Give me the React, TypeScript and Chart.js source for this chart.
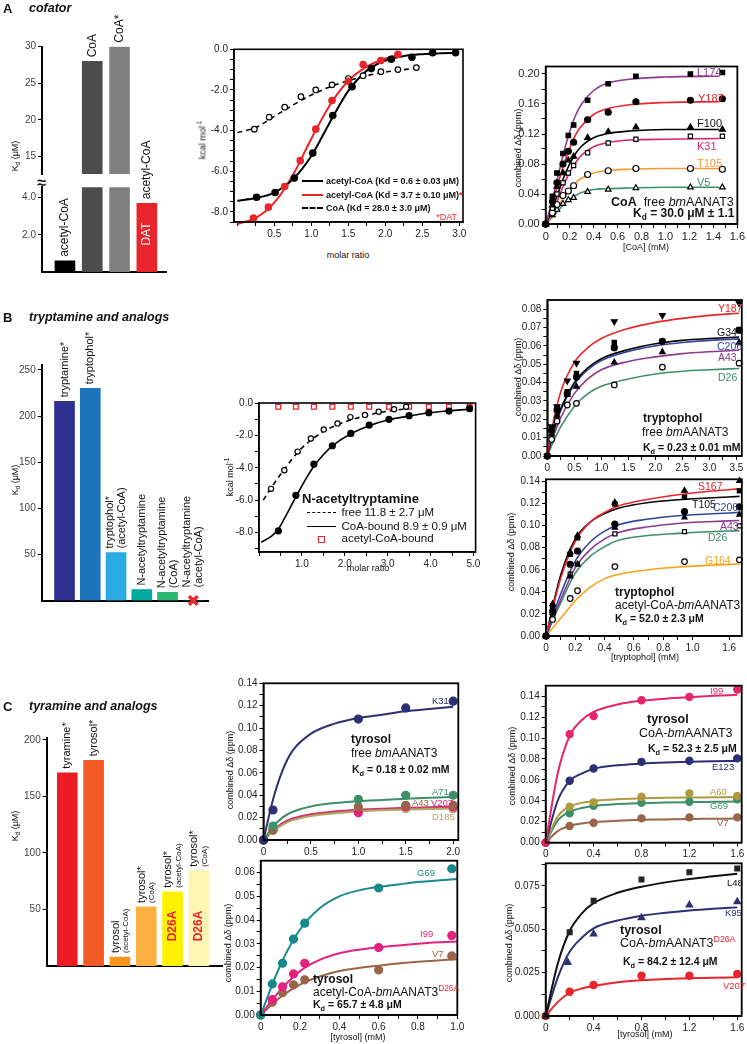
import React, { useEffect, useRef } from 'react';
import { Chart, registerables } from 'chart.js';

Chart.register(...registerables);

const FONT = "'Liberation Sans', Arial, Helvetica, sans-serif";
const RED = '#e8252b';
const PURPLE = '#8e3a8e';
const PINK = '#d6246e';
const ORANGE = '#f39c33';
const GREEN = '#3d8f6a';
const BLUE = '#34449e';
const NAVY = '#2d2f74';
const TEAL = '#16898a';
const BROWN = '#9a6448';
const TAN = '#b5a466';
const OLIVE = '#b0993e';
const MAGENTA = '#e6207f';

// ================= Panel A : bars =================
const A_BAR_VALUES = [0.6, 28.0, 30.0, 3.7];
const A_BAR_COLORS = ['#000000', '#4d4d4d', '#808080', RED];
const A_BAR_LABELS = [['acetyl-CoA'], ['CoA'], ['CoA*'], ['acetyl-CoA']];
const A_BAR_INNER = ['', '', '', 'DAT'];
const A_UPPER_TICKS = [15, 20, 25, 30];
const A_UPPER_TICK_LABELS = ['15', '20', '25', '30'];
const A_LOWER_TICKS = [2, 4];
const A_LOWER_TICK_LABELS = ['2.0', '4.0'];

// ================= Panel A : ITC =================
const ITCA_ACETYL_X = [0.26, 0.51, 0.77, 1.02, 1.29, 1.55, 1.81, 2.08, 2.36, 2.64, 2.95];
const ITCA_ACETYL_Y = [-7.28, -7.05, -6.34, -5.11, -3.26, -1.84, -0.95, -0.49, -0.39, -0.17, -0.17];
const ITCA_DAT_X = [0.22, 0.42, 0.64, 0.85, 1.06, 1.28, 1.5, 1.7, 1.94, 2.17];
const ITCA_DAT_Y = [-8.3, -7.77, -6.75, -5.48, -3.93, -2.52, -1.57, -0.75, -0.55, -0.25];
const ITCA_COA_X = [0.23, 0.43, 0.64, 0.86, 1.06, 1.28, 1.5, 1.7, 1.94, 2.17, 2.42];
const ITCA_COA_Y = [-3.93, -3.34, -2.85, -2.33, -2.0, -1.75, -1.44, -1.3, -1.1, -1.0, -0.9];
const ITCA_FIT_ACETYL_X = [0, 0.25, 0.5, 0.75, 1.0, 1.25, 1.5, 1.75, 2.0, 2.25, 2.5, 2.75, 2.95];
const ITCA_FIT_ACETYL_Y = [-7.45, -7.32, -7.05, -6.4, -5.25, -3.6, -2.05, -1.05, -0.55, -0.33, -0.24, -0.2, -0.18];
const ITCA_FIT_DAT_X = [0, 0.25, 0.5, 0.75, 1.0, 1.25, 1.5, 1.75, 2.0, 2.2];
const ITCA_FIT_DAT_Y = [-8.6, -8.3, -7.55, -6.2, -4.4, -2.75, -1.55, -0.85, -0.45, -0.25];
const ITCA_FIT_COA_X = [0, 0.25, 0.5, 0.75, 1.0, 1.25, 1.5, 1.75, 2.0, 2.25, 2.45];
const ITCA_FIT_COA_Y = [-4.1, -3.85, -3.3, -2.75, -2.25, -1.85, -1.55, -1.3, -1.12, -1.0, -0.92];
const ITCA_X_TICKS = [0, 0.25, 0.5, 0.75, 1, 1.25, 1.5, 1.75, 2, 2.25, 2.5, 2.75, 3];
const ITCA_X_LABELS = ['', '', '0.5', '', '1.0', '', '1.5', '', '2.0', '', '2.5', '', '3.0'];
const ITCA_Y_TICKS = [-8.5, -8, -7.5, -7, -6.5, -6, -5.5, -5, -4.5, -4, -3.5, -3, -2.5, -2, -1.5, -1, -0.5, 0];
const ITCA_Y_LABELS = ['', '-8.0', '', '', '', '-6.0', '', '', '', '-4.0', '', '', '', '-2.0', '', '', '', '0.0'];

// ================= Panel A : NMR CoA =================
const COA_X = [0, 0.056, 0.094, 0.144, 0.189, 0.233, 0.35, 0.522, 0.753, 1.208, 1.475];
const COA_L174 = [0, 0.037, 0.068, 0.094, 0.118, 0.132, 0.165, 0.187, 0.197, 0.2, 0.202];
const COA_Y187 = [0, 0.03, 0.055, 0.08, 0.097, 0.109, 0.139, 0.149, 0.163, 0.165, 0.167];
const COA_F100 = [0, 0.025, 0.05, 0.068, 0.085, 0.09, 0.115, 0.123, 0.129, 0.129, 0.126];
const COA_K31 = [0, 0.021, 0.04, 0.055, 0.068, 0.078, 0.095, 0.108, 0.113, 0.117, 0.117];
const COA_T105 = [0, 0.015, 0.026, 0.038, 0.044, 0.051, 0.066, 0.071, 0.074, 0.074, 0.073];
const COA_V5 = [0, 0.012, 0.019, 0.027, 0.032, 0.035, 0.043, 0.046, 0.048, 0.049, 0.049];
const COA_FIT_X = [0, 0.05, 0.1, 0.15, 0.2, 0.25, 0.3, 0.4, 0.5, 0.7, 1.0, 1.45];
const COA_FIT_L174 = [0, 0.028, 0.062, 0.095, 0.123, 0.145, 0.16, 0.178, 0.187, 0.193, 0.196, 0.197];
const COA_FIT_Y187 = [0, 0.024, 0.052, 0.079, 0.101, 0.119, 0.131, 0.146, 0.153, 0.159, 0.162, 0.163];
const COA_FIT_F100 = [0, 0.018, 0.04, 0.062, 0.08, 0.094, 0.104, 0.115, 0.12, 0.124, 0.126, 0.126];
const COA_FIT_K31 = [0, 0.014, 0.032, 0.052, 0.069, 0.082, 0.092, 0.103, 0.108, 0.112, 0.113, 0.114];
const COA_FIT_T105 = [0, 0.01, 0.022, 0.035, 0.046, 0.055, 0.061, 0.068, 0.071, 0.073, 0.074, 0.074];
const COA_FIT_V5 = [0, 0.008, 0.017, 0.026, 0.033, 0.038, 0.042, 0.046, 0.047, 0.048, 0.049, 0.049];
const NMRA_X_TICKS = [0, 0.1, 0.2, 0.3, 0.4, 0.5, 0.6, 0.7, 0.8, 0.9, 1.0, 1.1, 1.2, 1.3, 1.4, 1.5, 1.6];
const NMRA_X_LABELS = ['0', '', '0.2', '', '0.4', '', '0.6', '', '0.8', '', '1.0', '', '1.2', '', '1.4', '', '1.6'];
const NMRA_Y_TICKS = [0, 0.02, 0.04, 0.06, 0.08, 0.1, 0.12, 0.14, 0.16, 0.18, 0.2];
const NMRA_Y_LABELS = ['0.00', '', '0.04', '', '0.08', '', '0.12', '', '0.16', '', '0.20'];

// ================= Panel B : bars =================
const B_BAR_VALUES = [216, 230, 52.0, 11.8, 8.9, 0];
const B_BAR_COLORS = ['#2e3192', '#1c75bc', '#29abe2', '#00a99d', '#2bb673', '#2bb673'];
const B_BAR_LABELS = [['tryptamine*'], ['tryptophol*'], ['tryptophol*', '(acetyl-CoA)'], ['N-acetyltryptamine'], ['N-acetyltryptamine', '(CoA)'], ['N-acetyltryptamine', '(acetyl-CoA)']];
const B_TICKS = [50, 100, 150, 200, 250];
const B_TICK_LABELS = ['50', '100', '150', '200', '250'];

// ================= Panel B : ITC =================
const ITCB_BOUND_X = [0.45, 0.86, 1.28, 1.71, 2.14, 2.57, 3.03, 3.5, 3.96, 4.43, 4.91];
const ITCB_COA_Y = [-7.9, -5.7, -3.78, -2.64, -1.88, -1.36, -1.01, -0.78, -0.6, -0.5, -0.35];
const ITCB_ACETYL_Y = [-0.23, -0.23, -0.23, -0.23, -0.23, -0.23, -0.23, -0.23, -0.23, -0.23, -0.23];
const ITCB_FREE_X = [0.28, 0.59, 0.9, 1.21, 1.51, 1.83, 2.13, 2.47, 2.79, 3.15, 3.43];
const ITCB_FREE_Y = [-5.3, -4.15, -3.0, -2.19, -1.63, -1.26, -0.87, -0.74, -0.54, -0.39, -0.23];
const ITCB_FIT_COA_X = [0.05, 0.3, 0.45, 0.6, 0.86, 1.1, 1.28, 1.5, 1.71, 2.14, 2.57, 3.0, 3.5, 4.0, 4.5, 4.95];
const ITCB_FIT_COA_Y = [-8.6, -8.2, -7.8, -7.1, -5.8, -4.65, -3.9, -3.2, -2.65, -1.9, -1.4, -1.05, -0.8, -0.6, -0.47, -0.38];
const ITCB_FIT_FREE_X = [0.1, 0.28, 0.59, 0.9, 1.21, 1.51, 1.83, 2.13, 2.47, 2.79, 3.15, 3.45];
const ITCB_FIT_FREE_Y = [-6.0, -5.25, -4.1, -3.05, -2.3, -1.75, -1.35, -1.05, -0.8, -0.6, -0.45, -0.35];
const ITCB_X_TICKS = [0, 0.5, 1, 1.5, 2, 2.5, 3, 3.5, 4, 4.5, 5];
const ITCB_X_LABELS = ['', '', '1.0', '', '2.0', '', '3.0', '', '4.0', '', '5.0'];
const ITCB_Y_TICKS = [-9, -8, -7, -6, -5, -4, -3, -2, -1, 0];
const ITCB_Y_LABELS = ['', '-8.0', '', '-6.0', '', '-4.0', '', '-2.0', '', '0.0'];

// ================= Panel B : NMR tryptophol, free =================
const TRPF_X = [0, 0.08, 0.18, 0.37, 0.54, 1.24, 2.13, 3.55];
const TRPF_Y187 = [0, 0.016, 0.027, 0.041, 0.0506, 0.0733, 0.0766, 0.0833];
const TRPF_G34 = [0, 0.015, 0.026, 0.035, 0.045, 0.0618, 0.0624, 0.069];
const TRPF_C206 = [0, 0.014, 0.025, 0.034, 0.043, 0.059, 0.0625, 0.0685];
const TRPF_A43 = [0, 0.012, 0.022, 0.0333, 0.0378, 0.051, 0.0567, 0.0618];
const TRPF_D26 = [0, 0.009, 0.019, 0.0278, 0.0287, 0.0387, 0.0484, 0.0506];
const TRPF_FIT_X = [0, 0.1, 0.25, 0.5, 0.75, 1.0, 1.5, 2.0, 2.5, 3.0, 3.55];
const TRPF_FIT_Y187 = [0, 0.017, 0.035, 0.051, 0.059, 0.064, 0.0695, 0.0728, 0.075, 0.0766, 0.0778];
const TRPF_FIT_G34 = [0, 0.012, 0.026, 0.04, 0.048, 0.053, 0.058, 0.0612, 0.063, 0.064, 0.0648];
const TRPF_FIT_C206 = [0, 0.0115, 0.025, 0.039, 0.047, 0.052, 0.057, 0.06, 0.0618, 0.063, 0.0638];
const TRPF_FIT_A43 = [0, 0.0095, 0.021, 0.034, 0.042, 0.047, 0.0515, 0.054, 0.0558, 0.0568, 0.0576];
const TRPF_FIT_D26 = [0, 0.007, 0.016, 0.027, 0.034, 0.038, 0.042, 0.0447, 0.0462, 0.047, 0.0477];
const TRPF_X_TICKS = [0, 0.25, 0.5, 0.75, 1, 1.25, 1.5, 1.75, 2, 2.25, 2.5, 2.75, 3, 3.25, 3.5];
const TRPF_X_LABELS = ['0', '', '0.5', '', '1.0', '', '1.5', '', '2.0', '', '2.5', '', '3.0', '', '3.5'];
const TRPF_Y_TICKS = [0, 0.005, 0.01, 0.015, 0.02, 0.025, 0.03, 0.035, 0.04, 0.045, 0.05, 0.055, 0.06, 0.065, 0.07, 0.075, 0.08];
const TRPF_Y_LABELS = ['0.00', '', '0.01', '', '0.02', '', '0.03', '', '0.04', '', '0.05', '', '0.06', '', '0.07', '', '0.08'];

// ================= Panel B : NMR tryptophol, acetyl-CoA-bound =================
const TRPA_X = [0, 0.045, 0.165, 0.215, 0.47, 0.945, 1.32];
const TRPA_S167 = [0, 0.029, 0.076, 0.091, 0.121, 0.1317, 0.1406];
const TRPA_T105 = [0, 0.027, 0.074, 0.089, 0.1197, 0.1258, 0.1315];
const TRPA_C206 = [0, 0.022, 0.065, 0.077, 0.1013, 0.1128, 0.117];
const TRPA_A43 = [0, 0.021, 0.054, 0.065, 0.0982, 0.1074, 0.11];
const TRPA_D26 = [0, 0.02, 0.056, 0.065, 0.0925, 0.0946, 0.0998];
const TRPA_G164 = [0, 0.015, 0.034, 0.041, 0.0629, 0.0674, 0.069];
const TRPA_FIT_X = [0, 0.1, 0.2, 0.3, 0.4, 0.5, 0.7, 0.9, 1.1, 1.32];
const TRPA_FIT_S167 = [0, 0.052, 0.086, 0.103, 0.112, 0.118, 0.124, 0.128, 0.131, 0.1333];
const TRPA_FIT_T105 = [0, 0.055, 0.088, 0.103, 0.111, 0.116, 0.121, 0.1235, 0.125, 0.1265];
const TRPA_FIT_C206 = [0, 0.038, 0.068, 0.085, 0.095, 0.101, 0.106, 0.109, 0.1105, 0.112];
const TRPA_FIT_A43 = [0, 0.033, 0.062, 0.078, 0.088, 0.094, 0.099, 0.102, 0.1035, 0.1047];
const TRPA_FIT_D26 = [0, 0.03, 0.057, 0.072, 0.081, 0.087, 0.091, 0.093, 0.0945, 0.0955];
const TRPA_FIT_G164 = [0, 0.016, 0.032, 0.044, 0.052, 0.056, 0.06, 0.0625, 0.064, 0.0653];
const TRPA_X_TICKS = [0, 0.1, 0.2, 0.3, 0.4, 0.5, 0.6, 0.7, 0.8, 0.9, 1.0, 1.25];
const TRPA_X_LABELS = ['0', '', '0.2', '', '0.4', '', '0.6', '', '0.8', '', '1.0', '1.6'];
const Y014_TICKS = [0, 0.01, 0.02, 0.03, 0.04, 0.05, 0.06, 0.07, 0.08, 0.09, 0.1, 0.11, 0.12, 0.13, 0.14];
const Y014_LABELS = ['0.00', '', '0.02', '', '0.04', '', '0.06', '', '0.08', '', '0.10', '', '0.12', '', '0.14'];

// ================= Panel C : bars =================
const C_BAR_VALUES = [171, 182, 8, 52.3, 65.7, 84.2];
const C_BAR_COLORS = ['#ec1c24', '#f15a22', '#f7941d', '#fbb040', '#fff200', '#fdf6b3'];
const C_BAR_LABELS = [['tyramine*'], ['tyrosol*'], ['tyrosol', '(acetyl-CoA)'], ['tyrosol*', '(CoA)'], ['tyrosol*', '(acetyl-CoA)'], ['tyrosol*', '(CoA)']];
const C_BAR_INNER = ['', '', '', '', 'D26A', 'D26A'];
const C_TICKS = [50, 100, 150, 200];
const C_TICK_LABELS = ['50', '100', '150', '200'];

// ================= Panel C : tyrosol, free =================
const TYRF_X = [0, 0.1, 1.0, 1.5, 2.0];
const TYRF_K31 = [0, 0.0268, 0.108, 0.118, 0.124];
const TYRF_A71 = [0, 0.0125, 0.0363, 0.04, 0.04];
const TYRF_A43 = [0, 0.009, 0.0297, 0.031, 0.031];
const TYRF_V207 = [0, 0.0095, 0.0244, 0.0297, 0.0295];
const TYRF_D185 = [0, 0.0085, 0.0265, 0.028, 0.028];
const TYRF_FIT_X = [0, 0.1, 0.2, 0.3, 0.5, 0.75, 1.0, 1.25, 1.5, 1.75, 2.0];
const TYRF_FIT_K31 = [0, 0.036, 0.062, 0.079, 0.095, 0.104, 0.109, 0.112, 0.115, 0.117, 0.119];
const TYRF_FIT_A71 = [0, 0.012, 0.02, 0.025, 0.03, 0.033, 0.0347, 0.0358, 0.0368, 0.0377, 0.0385];
const TYRF_FIT_A43 = [0, 0.008, 0.014, 0.018, 0.022, 0.0245, 0.026, 0.027, 0.0277, 0.0283, 0.0288];
const TYRF_FIT_V207 = [0, 0.0085, 0.015, 0.019, 0.023, 0.0255, 0.027, 0.028, 0.0287, 0.0293, 0.0298];
const TYRF_FIT_D185 = [0, 0.0078, 0.0135, 0.0175, 0.0215, 0.024, 0.0255, 0.0265, 0.0272, 0.0277, 0.028];
const TYRF_X_TICKS = [0, 0.25, 0.5, 0.75, 1, 1.25, 1.5, 1.75, 2];
const TYRF_X_LABELS = ['0', '', '0.5', '', '1.0', '', '1.5', '', '2.0'];

// ================= Panel C : tyrosol, acetyl-CoA-bmAANAT3 D26A =================
const TYRA_X = [0, 0.059, 0.111, 0.167, 0.224, 0.6, 0.972];
const TYRA_G69 = [0, 0.0131, 0.0218, 0.032, 0.0387, 0.0535, 0.0616];
const TYRA_I99 = [0, 0.0065, 0.0119, 0.0173, 0.0218, 0.0284, 0.0335];
const TYRA_V7 = [0, 0.0054, 0.0094, 0.0127, 0.0148, 0.019, 0.0249];
const TYRA_FIT_X = [0, 0.1, 0.2, 0.3, 0.4, 0.5, 0.6, 0.7, 0.8, 0.9, 1.0];
const TYRA_FIT_G69 = [0, 0.021, 0.036, 0.045, 0.05, 0.0525, 0.054, 0.055, 0.056, 0.0567, 0.0573];
const TYRA_FIT_I99 = [0, 0.0105, 0.0185, 0.0232, 0.026, 0.0275, 0.0285, 0.0293, 0.03, 0.0306, 0.031];
const TYRA_FIT_V7 = [0, 0.0075, 0.0128, 0.0162, 0.0185, 0.0198, 0.0208, 0.0217, 0.0224, 0.023, 0.0235];
const TYRA_X_TICKS = [0, 0.1, 0.2, 0.3, 0.4, 0.5, 0.6, 0.7, 0.8, 0.9, 1.0];
const TYRA_X_LABELS = ['0', '', '0.2', '', '0.4', '', '0.6', '', '0.8', '', '1.0'];
const TYRA_Y_TICKS = [0, 0.005, 0.01, 0.015, 0.02, 0.025, 0.03, 0.035, 0.04, 0.045, 0.05, 0.055, 0.06];
const TYRA_Y_LABELS = ['0.00', '', '0.01', '', '0.02', '', '0.03', '', '0.04', '', '0.05', '', '0.06'];

// ================= Panel C : tyrosol, CoA-bmAANAT3 =================
const TYRC_X = [0, 0.2, 0.4, 0.8, 1.2, 1.6];
const TYRC_I99 = [0, 0.1037, 0.1211, 0.1361, 0.1393, 0.1463];
const TYRC_E123 = [0, 0.0591, 0.0709, 0.0772, 0.0782, 0.0805];
const TYRC_A60 = [0, 0.0343, 0.0385, 0.0438, 0.0471, 0.0445];
const TYRC_G69 = [0, 0.028, 0.0352, 0.0381, 0.039, 0.0413];
const TYRC_V7 = [0, 0.0158, 0.019, 0.0232, 0.0241, 0.0241];
const TYRC_FIT_X = [0, 0.1, 0.2, 0.3, 0.4, 0.6, 0.8, 1.0, 1.2, 1.4, 1.6];
const TYRC_FIT_I99 = [0, 0.066, 0.102, 0.117, 0.125, 0.132, 0.1355, 0.1375, 0.139, 0.1403, 0.1413];
const TYRC_FIT_E123 = [0, 0.04, 0.059, 0.066, 0.0705, 0.074, 0.0755, 0.0765, 0.0772, 0.0777, 0.078];
const TYRC_FIT_A60 = [0, 0.025, 0.0345, 0.038, 0.0398, 0.0415, 0.0423, 0.0428, 0.0431, 0.0433, 0.0435];
const TYRC_FIT_G69 = [0, 0.021, 0.0295, 0.033, 0.035, 0.0368, 0.0377, 0.0383, 0.0387, 0.039, 0.0393];
const TYRC_FIT_V7 = [0, 0.011, 0.016, 0.0183, 0.0196, 0.021, 0.0218, 0.0222, 0.0226, 0.0228, 0.023];
const TYRC_X_TICKS = [0, 0.2, 0.4, 0.6, 0.8, 1.0, 1.2, 1.4, 1.6];
const TYRC_X_LABELS = ['0', '', '0.4', '', '0.8', '', '1.2', '', '1.6'];

// ================= Panel C : tyrosol, CoA-bmAANAT3 D26A =================
const TYRD_X = [0, 0.2, 0.4, 0.8, 1.2, 1.6];
const TYRD_K95_X = [0, 0.184, 0.4, 0.8, 1.2, 1.6];
const TYRD_L48 = [0, 0.0482, 0.0664, 0.0787, 0.0828, 0.085];
const TYRD_K95 = [0, 0.0309, 0.0472, 0.0566, 0.0639, 0.0658];
const TYRD_V207 = [0, 0.014, 0.0179, 0.0232, 0.0232, 0.0242];
const TYRD_FIT_X = [0, 0.1, 0.2, 0.3, 0.4, 0.6, 0.8, 1.0, 1.2, 1.4, 1.6];
const TYRD_FIT_L48 = [0, 0.03, 0.049, 0.059, 0.065, 0.071, 0.0745, 0.077, 0.079, 0.0805, 0.082];
const TYRD_FIT_K95 = [0, 0.022, 0.037, 0.045, 0.0505, 0.055, 0.0578, 0.0595, 0.0608, 0.0618, 0.0626];
const TYRD_FIT_V207 = [0, 0.008, 0.0134, 0.0158, 0.0172, 0.0194, 0.0206, 0.0213, 0.0218, 0.0221, 0.0223];
const TYRD_Y_TICKS = [0, 0.0125, 0.025, 0.0375, 0.05, 0.0625, 0.075, 0.0875];
const TYRD_Y_LABELS = ['0.000', '', '0.025', '', '0.050', '', '0.075', ''];

// ================= helpers =================
type Area = { l: number; t: number; r: number; b: number };
type Pad = { l: number; t: number; r: number; b: number };
type Box = { left: number; top: number; w: number; h: number };
type Axis = { min: number; max: number; ticks: number[]; labels: string[]; fs?: number; show?: boolean; border?: number; color?: string };

const pts = (xs: number[], ys: number[]) => xs.map((x, i) => ({ x, y: ys[i] }));

function fitLine(xs: number[], ys: number[], color: string, width = 1.6, dash?: number[]) {
  return {
    type: 'line', data: pts(xs, ys), borderColor: color, borderWidth: width, borderDash: dash || [],
    pointRadius: 0, showLine: true, fill: false, cubicInterpolationMode: 'monotone', clip: false, order: 2,
  };
}

function marks(xs: number[], ys: number[], style: string, border: string, fillCol: string, r = 3, rot = 0, bw = 1.2) {
  return {
    type: 'scatter', data: pts(xs, ys), pointStyle: style, pointRadius: r, pointRotation: rot,
    pointBackgroundColor: fillCol, pointBorderColor: border, pointBorderWidth: bw, showLine: false, clip: false, order: 1,
  };
}

function scaleOf(a: Axis, horizontal: boolean, size: number) {
  const showTicks = a.show !== false;
  return {
    type: 'linear', min: a.min, max: a.max, display: true,
    afterBuildTicks: (s: any) => { s.ticks = a.ticks.map((v) => ({ value: v })); },
    afterFit: (s: any) => { if (horizontal) s.height = size; else s.width = size; },
    ticks: {
      display: showTicks, autoSkip: false, maxRotation: 0, minRotation: 0, padding: 2,
      color: a.color || '#222', font: { family: FONT, size: a.fs || 10 },
      callback: (_v: any, i: number) => a.labels[i] || '',
    },
    grid: { display: showTicks && a.ticks.length > 0, drawOnChartArea: false, drawTicks: true, tickLength: 4, color: '#000', lineWidth: 1 },
    border: { display: (a.border === undefined ? 1.5 : a.border) > 0, color: '#000', width: a.border === undefined ? 1.5 : a.border },
  };
}

const framePlugin = {
  id: 'frame',
  afterDatasetsDraw(chart: any, _a: any, opts: any) {
    if (!opts || !opts.width) return;
    const { ctx, chartArea: c } = chart;
    ctx.save();
    ctx.strokeStyle = '#000';
    ctx.lineWidth = opts.width;
    ctx.strokeRect(c.left, c.top, c.right - c.left, c.bottom - c.top);
    ctx.restore();
  },
};

const barTextPlugin = {
  id: 'barText',
  afterDatasetsDraw(chart: any, _a: any, o: any) {
    if (!o || !o.values) return;
    const ctx = chart.ctx;
    const xs = chart.scales.x;
    const ys = chart.scales.y;
    o.values.forEach((v: number, i: number) => {
      if (v < ys.min - 1e-9 || v > ys.max + 1e-9) return;
      const px = xs.getPixelForValue(i);
      const top = ys.getPixelForValue(v);
      const lines: string[] = (o.labels && o.labels[i]) || [];
      const sizes = lines.map((_t, j) => (j === 0 ? o.size : o.subSize));
      const total = sizes.reduce((acc: number, s: number) => acc + s * 1.1, 0);
      const gap = v === 0 ? o.zeroGap : o.gap;
      ctx.save();
      ctx.translate(px, top - gap);
      ctx.rotate(-Math.PI / 2);
      ctx.textAlign = 'left';
      ctx.textBaseline = 'middle';
      ctx.fillStyle = '#111';
      let off = -total / 2;
      lines.forEach((t, j) => {
        const h = sizes[j] * 1.1;
        ctx.font = `${sizes[j]}px ${FONT}`;
        ctx.fillText(t, 0, off + h / 2);
        off += h;
      });
      ctx.restore();
      const inner = o.inner && o.inner[i];
      if (inner) {
        const base = ys.getPixelForValue(ys.min);
        ctx.save();
        ctx.translate(px, base - o.innerOffset);
        ctx.rotate(-Math.PI / 2);
        ctx.textAlign = 'center';
        ctx.textBaseline = 'middle';
        ctx.fillStyle = o.innerColor;
        ctx.font = `${o.innerBold ? 'bold ' : ''}${o.innerSize}px ${FONT}`;
        ctx.fillText(inner, 0, 0);
        ctx.restore();
      }
    });
  },
};

function boxOf(area: Area, pad: Pad): Box {
  const left = Math.floor(area.l - pad.l);
  const top = Math.floor(area.t - pad.t);
  return { left, top, w: Math.ceil(area.r + pad.r - left), h: Math.ceil(area.b + pad.b - top) };
}

function baseOptions(area: Area, box: Box, x: Axis, y: Axis, extraPlugins: any) {
  return {
    responsive: false, animation: false, devicePixelRatio: 1, events: [],
    layout: { padding: { left: 0, top: area.t - box.top, right: box.left + box.w - area.r, bottom: 0 } },
    plugins: Object.assign({ legend: { display: false }, tooltip: { enabled: false } }, extraPlugins),
    scales: { x: scaleOf(x, true, box.top + box.h - area.b), y: scaleOf(y, false, area.l - box.left) },
  };
}

function xyConfig(area: Area, box: Box, x: Axis, y: Axis, datasets: any[], frame = 1.6) {
  return {
    type: 'scatter',
    data: { datasets },
    options: baseOptions(area, box, x, y, { frame: { width: frame } }),
    plugins: [framePlugin],
  };
}

function barConfig(area: Area, box: Box, s: any) {
  const datasets: any[] = [{
    type: 'bar', data: s.values.map((v: number, i: number) => ({ x: i, y: v })),
    backgroundColor: s.colors, borderWidth: 0, barThickness: 20, grouped: false,
  }];
  if (s.cross) {
    const zeros = s.values.map((v: number, i: number) => ({ x: i, y: v })).filter((p: any) => p.y === 0);
    datasets.push({
      type: 'scatter', data: zeros, pointStyle: 'crossRot', pointRadius: 6,
      pointBorderColor: RED, pointBorderWidth: 3.5, pointBackgroundColor: RED, clip: false,
    });
  }
  const xAxis: Axis = { min: s.xmin, max: s.xmax, ticks: [], labels: [], show: false, border: s.xBorder };
  return {
    type: 'bar',
    data: { datasets },
    options: baseOptions(area, box, xAxis, s.y, {
      barText: {
        values: s.values, labels: s.labels, size: s.size, subSize: s.subSize, gap: 4, zeroGap: 13,
        inner: s.inner, innerColor: s.innerColor, innerBold: s.innerBold, innerSize: s.innerSize, innerOffset: s.innerOffset,
      },
    }),
    plugins: [barTextPlugin],
  };
}

type PlotSpec = { key: string; area: Area; pad: Pad; build: (area: Area, box: Box) => any };

function Plot({ spec }: { spec: PlotSpec }) {
  const ref = useRef<HTMLCanvasElement | null>(null);
  const box = boxOf(spec.area, spec.pad);
  useEffect(() => {
    if (!ref.current) return undefined;
    const chart = new Chart(ref.current, spec.build(spec.area, box) as any);
    return () => chart.destroy();
  }, []);
  return (
    <canvas ref={ref} width={box.w} height={box.h}
      style={{ position: 'absolute', left: box.left, top: box.top, width: box.w, height: box.h }} />
  );
}

const ax = (min: number, max: number, ticks: number[], labels: string[], fs = 10): Axis => ({ min, max, ticks, labels, fs });
const barY = (min: number, max: number, ticks: number[], labels: string[]): Axis => ({ min, max, ticks, labels, fs: 10, border: 2, color: '#444' });

const PLOTS: PlotSpec[] = [
  {
    key: 'a-upper', area: { l: 42, t: 46.7, r: 166, b: 178.3 }, pad: { l: 34, t: 42, r: 4, b: 3 },
    build: (area, box) => barConfig(area, box, {
      values: A_BAR_VALUES, colors: A_BAR_COLORS, labels: A_BAR_LABELS, size: 12, subSize: 12,
      y: barY(12.6, 30, A_UPPER_TICKS, A_UPPER_TICK_LABELS), xmin: -0.84, xmax: 3.7, xBorder: 0,
    }),
  },
  {
    key: 'a-lower', area: { l: 42, t: 187.3, r: 166, b: 274 }, pad: { l: 34, t: 62, r: 4, b: 6 },
    build: (area, box) => barConfig(area, box, {
      values: A_BAR_VALUES, colors: A_BAR_COLORS, labels: A_BAR_LABELS, size: 12, subSize: 12,
      inner: A_BAR_INNER, innerColor: '#ffffff', innerBold: false, innerSize: 12, innerOffset: 38,
      y: barY(0, 4.56, A_LOWER_TICKS, A_LOWER_TICK_LABELS), xmin: -0.84, xmax: 3.7, xBorder: 2,
    }),
  },
  {
    key: 'itc-a', area: { l: 234, t: 49.3, r: 463, b: 222 }, pad: { l: 34, t: 10, r: 14, b: 20 },
    build: (area, box) => xyConfig(area, box, ax(-0.045, 3.05, ITCA_X_TICKS, ITCA_X_LABELS), ax(-8.5, 0, ITCA_Y_TICKS, ITCA_Y_LABELS), [
      marks(ITCA_ACETYL_X, ITCA_ACETYL_Y, 'circle', '#000', '#000', 3.2),
      marks(ITCA_DAT_X, ITCA_DAT_Y, 'circle', RED, RED, 3.2),
      marks(ITCA_COA_X, ITCA_COA_Y, 'circle', '#000', '#fff', 2.8),
      fitLine(ITCA_FIT_ACETYL_X, ITCA_FIT_ACETYL_Y, '#000', 2),
      fitLine(ITCA_FIT_DAT_X, ITCA_FIT_DAT_Y, RED, 2),
      fitLine(ITCA_FIT_COA_X, ITCA_FIT_COA_Y, '#000', 1.6, [5, 4]),
    ], 1.6),
  },
  {
    key: 'nmr-a', area: { l: 545.7, t: 66.5, r: 737.7, b: 224 }, pad: { l: 36, t: 10, r: 9, b: 20 },
    build: (area, box) => xyConfig(area, box, ax(0, 1.6, NMRA_X_TICKS, NMRA_X_LABELS, 11), ax(0, 0.21, NMRA_Y_TICKS, NMRA_Y_LABELS, 11), [
      marks(COA_X, COA_L174, 'rect', '#000', '#000', 3.2),
      marks(COA_X, COA_Y187, 'circle', '#000', '#000', 3),
      marks(COA_X, COA_F100, 'triangle', '#000', '#000', 3.4),
      marks(COA_X, COA_K31, 'rect', '#000', '#fff', 3),
      marks(COA_X, COA_T105, 'circle', '#000', '#fff', 3),
      marks(COA_X, COA_V5, 'triangle', '#000', '#fff', 3.2),
      fitLine(COA_FIT_X, COA_FIT_L174, PURPLE),
      fitLine(COA_FIT_X, COA_FIT_Y187, RED),
      fitLine(COA_FIT_X, COA_FIT_F100, '#000'),
      fitLine(COA_FIT_X, COA_FIT_K31, PINK),
      fitLine(COA_FIT_X, COA_FIT_T105, ORANGE),
      fitLine(COA_FIT_X, COA_FIT_V5, GREEN),
    ], 1.8),
  },
  {
    key: 'b-bars', area: { l: 41.7, t: 365.3, r: 212, b: 603.3 }, pad: { l: 34, t: 52, r: 6, b: 6 },
    build: (area, box) => barConfig(area, box, {
      values: B_BAR_VALUES, colors: B_BAR_COLORS, labels: B_BAR_LABELS, size: 11, subSize: 11, cross: true,
      y: barY(0, 255, B_TICKS, B_TICK_LABELS), xmin: -0.886, xmax: 5.59, xBorder: 2,
    }),
  },
  {
    key: 'itc-b', area: { l: 259, t: 403, r: 475.6, b: 552 }, pad: { l: 34, t: 10, r: 14, b: 20 },
    build: (area, box) => xyConfig(area, box, ax(0, 5.05, ITCB_X_TICKS, ITCB_X_LABELS), ax(-9.2, 0, ITCB_Y_TICKS, ITCB_Y_LABELS), [
      marks(ITCB_BOUND_X, ITCB_COA_Y, 'circle', '#000', '#000', 3),
      marks(ITCB_FREE_X, ITCB_FREE_Y, 'circle', '#000', '#fff', 2.6),
      marks(ITCB_BOUND_X, ITCB_ACETYL_Y, 'rect', RED, 'rgba(255,255,255,0)', 3.4, 0, 1.3),
      fitLine(ITCB_FIT_COA_X, ITCB_FIT_COA_Y, '#000', 1.6),
      fitLine(ITCB_FIT_FREE_X, ITCB_FIT_FREE_Y, '#000', 1.6, [5, 4]),
    ], 1.6),
  },
  {
    key: 'nmr-b-top', area: { l: 547.3, t: 300, r: 743.3, b: 456 }, pad: { l: 36, t: 10, r: 3.7, b: 20 },
    build: (area, box) => xyConfig(area, box, ax(0, 3.6, TRPF_X_TICKS, TRPF_X_LABELS), ax(0, 0.085, TRPF_Y_TICKS, TRPF_Y_LABELS), [
      marks(TRPF_X, TRPF_Y187, 'triangle', '#000', '#000', 3.4, 180),
      marks(TRPF_X, TRPF_G34, 'rect', '#000', '#000', 3),
      marks(TRPF_X, TRPF_C206, 'circle', '#000', '#000', 3),
      marks(TRPF_X, TRPF_A43, 'triangle', '#000', '#000', 3.2),
      marks(TRPF_X, TRPF_D26, 'circle', '#000', '#fff', 2.8),
      fitLine(TRPF_FIT_X, TRPF_FIT_Y187, RED),
      fitLine(TRPF_FIT_X, TRPF_FIT_G34, '#000'),
      fitLine(TRPF_FIT_X, TRPF_FIT_C206, BLUE),
      fitLine(TRPF_FIT_X, TRPF_FIT_A43, PURPLE),
      fitLine(TRPF_FIT_X, TRPF_FIT_D26, GREEN),
    ], 1.8),
  },
  {
    key: 'nmr-b-bottom', area: { l: 546, t: 479.3, r: 743, b: 636 }, pad: { l: 36, t: 8, r: 4, b: 20 },
    build: (area, box) => xyConfig(area, box, ax(0, 1.336, TRPA_X_TICKS, TRPA_X_LABELS), ax(0, 0.142, Y014_TICKS, Y014_LABELS), [
      marks(TRPA_X, TRPA_S167, 'triangle', '#000', '#000', 3.2),
      marks(TRPA_X, TRPA_T105, 'rect', '#000', '#000', 3),
      marks(TRPA_X, TRPA_C206, 'circle', '#000', '#000', 3),
      marks(TRPA_X, TRPA_A43, 'triangle', '#000', '#000', 3),
      marks(TRPA_X, TRPA_D26, 'rect', '#000', '#fff', 2.8),
      marks(TRPA_X, TRPA_G164, 'circle', '#000', '#fff', 2.8),
      fitLine(TRPA_FIT_X, TRPA_FIT_S167, RED),
      fitLine(TRPA_FIT_X, TRPA_FIT_T105, '#000'),
      fitLine(TRPA_FIT_X, TRPA_FIT_C206, BLUE),
      fitLine(TRPA_FIT_X, TRPA_FIT_A43, PURPLE),
      fitLine(TRPA_FIT_X, TRPA_FIT_D26, GREEN),
      fitLine(TRPA_FIT_X, TRPA_FIT_G164, '#f7a21b'),
    ], 1.8),
  },
  {
    key: 'c-bars', area: { l: 46.7, t: 737.7, r: 222, b: 968 }, pad: { l: 34, t: 40, r: 6, b: 6 },
    build: (area, box) => barConfig(area, box, {
      values: C_BAR_VALUES, colors: C_BAR_COLORS, labels: C_BAR_LABELS, size: 11, subSize: 8,
      inner: C_BAR_INNER, innerColor: RED, innerBold: true, innerSize: 12, innerOffset: 40,
      y: barY(0, 202, C_TICKS, C_TICK_LABELS), xmin: -0.783, xmax: 5.88, xBorder: 2,
    }),
  },
  {
    key: 'c-mid-top', area: { l: 263.5, t: 683.3, r: 458.3, b: 840 }, pad: { l: 36, t: 10, r: 12, b: 18 },
    build: (area, box) => xyConfig(area, box, ax(0, 2.054, TYRF_X_TICKS, TYRF_X_LABELS), ax(0, 0.14, Y014_TICKS, Y014_LABELS), [
      marks(TYRF_X, TYRF_K31, 'circle', NAVY, NAVY, 4),
      marks(TYRF_X, TYRF_A71, 'circle', GREEN, GREEN, 4),
      marks(TYRF_X, TYRF_A43, 'circle', BROWN, BROWN, 4),
      marks(TYRF_X, TYRF_V207, 'circle', MAGENTA, MAGENTA, 4),
      marks(TYRF_X, TYRF_D185, 'circle', TAN, TAN, 4),
      fitLine(TYRF_FIT_X, TYRF_FIT_K31, NAVY, 2),
      fitLine(TYRF_FIT_X, TYRF_FIT_A71, GREEN, 2),
      fitLine(TYRF_FIT_X, TYRF_FIT_D185, TAN, 2),
      fitLine(TYRF_FIT_X, TYRF_FIT_A43, BROWN, 2),
      fitLine(TYRF_FIT_X, TYRF_FIT_V207, MAGENTA, 2),
    ], 1.8),
  },
  {
    key: 'c-mid-bottom', area: { l: 260.7, t: 860.7, r: 457.3, b: 1015 }, pad: { l: 36, t: 10, r: 12, b: 18 },
    build: (area, box) => xyConfig(area, box, ax(0, 1.0, TYRA_X_TICKS, TYRA_X_LABELS), ax(0, 0.065, TYRA_Y_TICKS, TYRA_Y_LABELS), [
      marks(TYRA_X, TYRA_G69, 'circle', TEAL, TEAL, 4),
      marks(TYRA_X, TYRA_I99, 'circle', MAGENTA, MAGENTA, 4),
      marks(TYRA_X, TYRA_V7, 'circle', BROWN, BROWN, 4),
      fitLine(TYRA_FIT_X, TYRA_FIT_G69, TEAL, 2),
      fitLine(TYRA_FIT_X, TYRA_FIT_I99, MAGENTA, 2),
      fitLine(TYRA_FIT_X, TYRA_FIT_V7, BROWN, 2),
    ], 1.8),
  },
  {
    key: 'c-right-top', area: { l: 545.7, t: 685.7, r: 741.7, b: 842.6 }, pad: { l: 36, t: 10, r: 5, b: 16 },
    build: (area, box) => xyConfig(area, box, ax(0, 1.637, TYRC_X_TICKS, TYRC_X_LABELS), ax(0, 0.15, Y014_TICKS, Y014_LABELS), [
      marks(TYRC_X, TYRC_I99, 'circle', '#e8246c', '#e8246c', 3.6),
      marks(TYRC_X, TYRC_E123, 'circle', NAVY, NAVY, 3.6),
      marks(TYRC_X, TYRC_A60, 'circle', OLIVE, OLIVE, 3.6),
      marks(TYRC_X, TYRC_G69, 'circle', GREEN, GREEN, 3.6),
      marks(TYRC_X, TYRC_V7, 'circle', BROWN, BROWN, 3.6),
      fitLine(TYRC_FIT_X, TYRC_FIT_I99, '#e8246c', 2),
      fitLine(TYRC_FIT_X, TYRC_FIT_E123, NAVY, 2),
      fitLine(TYRC_FIT_X, TYRC_FIT_A60, OLIVE, 2),
      fitLine(TYRC_FIT_X, TYRC_FIT_G69, GREEN, 2),
      fitLine(TYRC_FIT_X, TYRC_FIT_V7, BROWN, 2),
    ], 1.8),
  },
  {
    key: 'c-right-bottom', area: { l: 545.7, t: 863.3, r: 741.7, b: 1016 }, pad: { l: 40, t: 10, r: 5, b: 20 },
    build: (area, box) => xyConfig(area, box, ax(0, 1.637, TYRC_X_TICKS, TYRC_X_LABELS), ax(0, 0.088, TYRD_Y_TICKS, TYRD_Y_LABELS), [
      marks(TYRD_X, TYRD_L48, 'rect', '#222', '#222', 3.4),
      marks(TYRD_K95_X, TYRD_K95, 'triangle', NAVY, NAVY, 3.8),
      marks(TYRD_X, TYRD_V207, 'circle', RED, RED, 3.6),
      fitLine(TYRD_FIT_X, TYRD_FIT_L48, '#111', 2),
      fitLine(TYRD_FIT_X, TYRD_FIT_K95, NAVY, 2),
      fitLine(TYRD_FIT_X, TYRD_FIT_V207, RED, 2),
    ], 1.8),
  },
];

// ================= text overlays =================
type Part = string | { t: string; b?: boolean; i?: boolean; sub?: boolean; sup?: boolean; c?: string };
type TextSpec = { x: number; y: number; p: Part[]; s: number; b?: boolean; i?: boolean; c?: string; a?: 'l' | 'c' | 'r'; rot?: boolean };

const KD = (rest: string): Part[] => ['K', { t: 'd', sub: true }, rest];
const BM: Part = { t: 'bm', i: true };
const KD_UM: Part[] = ['K', { t: 'd', sub: true }, ' (μM)'];
const KCAL: Part[] = ['kcal mol', { t: '-1', sup: true }];
const DDPPM: Part[] = ['combined Δδ (ppm)'];

const TEXTS: TextSpec[] = [
  { x: 3, y: 8, p: ['A'], s: 13, b: true },
  { x: 29, y: 8, p: ['cofator'], s: 12.5, b: true, i: true },
  { x: 3, y: 317, p: ['B'], s: 13, b: true },
  { x: 29, y: 317, p: ['tryptamine and analogs'], s: 12.5, b: true, i: true },
  { x: 3, y: 706, p: ['C'], s: 13, b: true },
  { x: 29, y: 706, p: ['tyramine and analogs'], s: 12.5, b: true, i: true },
  { x: 42, y: 183, p: ['≈'], s: 16, b: true, a: 'c' },

  { x: 15, y: 156, p: KD_UM, s: 9, rot: true },
  { x: 15, y: 480, p: KD_UM, s: 9, rot: true },
  { x: 15, y: 826, p: KD_UM, s: 9, rot: true },
  { x: 203, y: 140, p: KCAL, s: 9, rot: true },
  { x: 230, y: 477, p: KCAL, s: 9, rot: true },
  { x: 518, y: 148, p: DDPPM, s: 9, rot: true },
  { x: 518, y: 377, p: DDPPM, s: 9, rot: true },
  { x: 511, y: 552, p: DDPPM, s: 9, rot: true },
  { x: 230, y: 770, p: DDPPM, s: 9, rot: true },
  { x: 228, y: 943, p: DDPPM, s: 9, rot: true },
  { x: 512, y: 766, p: DDPPM, s: 9, rot: true },
  { x: 509, y: 943, p: DDPPM, s: 9, rot: true },
  { x: 348, y: 255, p: ['molar ratio'], s: 9, a: 'c' },
  { x: 368, y: 568, p: ['molar ratio'], s: 9, a: 'c' },
  { x: 646, y: 247, p: ['[CoA] (mM)'], s: 9, a: 'c' },
  { x: 645, y: 657, p: ['[tryptophol] (mM)'], s: 9, a: 'c' },
  { x: 358, y: 1037, p: ['[tyrosol] (mM)'], s: 9, a: 'c' },
  { x: 645, y: 1034, p: ['[tyrosol] (mM)'], s: 9, a: 'c' },

  // ITC A legend
  { x: 326, y: 181, p: ['acetyl-CoA (Kd = 0.6 ± 0.03 μM)'], s: 9, b: true },
  { x: 326, y: 195, p: ['acetyl-CoA (Kd = 3.7 ± 0.10 μM)', { t: '*', c: RED }], s: 9, b: true },
  { x: 326, y: 208, p: ['CoA (Kd = 28.0 ± 3.0 μM)'], s: 9, b: true },
  { x: 457, y: 217, p: ['*DAT'], s: 9, c: RED, a: 'r' },

  // NMR A
  { x: 697, y: 72, p: ['L174'], s: 11, c: PURPLE },
  { x: 698, y: 98, p: ['Y187'], s: 11, c: RED },
  { x: 697, y: 123, p: ['F100'], s: 11, c: '#111' },
  { x: 697, y: 146, p: ['K31'], s: 11, c: PINK },
  { x: 697, y: 163, p: ['T105'], s: 11, c: ORANGE },
  { x: 697, y: 182, p: ['V5'], s: 11, c: GREEN },
  { x: 611, y: 202, p: [{ t: 'CoA', b: true }, '  free ', BM, 'AANAT3'], s: 12.5 },
  { x: 633, y: 213, p: KD(' = 30.0 μM ± 1.1'), s: 12, b: true },

  // ITC B legend
  { x: 302, y: 498, p: ['N-acetyltryptamine'], s: 13, b: true },
  { x: 341.5, y: 512.7, p: ['free 11.8 ± 2.7 μM'], s: 11.5 },
  { x: 341.5, y: 526.7, p: ['CoA-bound 8.9 ± 0.9 μM'], s: 11.5 },
  { x: 341.5, y: 539, p: ['acetyl-CoA-bound'], s: 11.5 },

  // NMR B top
  { x: 718, y: 308, p: ['Y187'], s: 10.5, c: RED },
  { x: 717, y: 332, p: ['G34'], s: 10.5, c: '#111' },
  { x: 717, y: 346, p: ['C206'], s: 10.5, c: BLUE },
  { x: 718, y: 357, p: ['A43'], s: 10.5, c: PURPLE },
  { x: 718, y: 377, p: ['D26'], s: 10.5, c: GREEN },
  { x: 643, y: 418, p: ['tryptophol'], s: 12, b: true },
  { x: 642, y: 432, p: ['free ', BM, 'AANAT3'], s: 12 },
  { x: 643, y: 447, p: KD(' = 0.23 ± 0.01 mM'), s: 10.5, b: true },

  // NMR B bottom
  { x: 698, y: 486, p: ['S167'], s: 10.5, c: RED },
  { x: 692, y: 504, p: ['T105'], s: 10.5, c: '#111' },
  { x: 713, y: 507, p: ['C206'], s: 10.5, c: BLUE },
  { x: 720, y: 526, p: ['A43'], s: 10.5, c: PURPLE },
  { x: 708, y: 537, p: ['D26'], s: 10.5, c: GREEN },
  { x: 705, y: 560, p: ['G164'], s: 10.5, c: '#f7a21b' },
  { x: 615, y: 592, p: ['tryptophol'], s: 12, b: true },
  { x: 615, y: 604.5, p: ['acetyl-CoA-', BM, 'AANAT3'], s: 12 },
  { x: 615, y: 618, p: KD(' = 52.0 ± 2.3 μM'), s: 10.5, b: true },

  // C middle top
  { x: 432, y: 701, p: ['K31'], s: 9.5, c: NAVY },
  { x: 432, y: 792, p: ['A71'], s: 9.5, c: GREEN },
  { x: 412, y: 803, p: ['A43'], s: 9.5, c: BROWN },
  { x: 431, y: 803, p: ['V207'], s: 9.5, c: MAGENTA },
  { x: 432, y: 817, p: ['D185'], s: 9.5, c: TAN },
  { x: 351, y: 739, p: ['tyrosol'], s: 12, b: true },
  { x: 351, y: 753, p: ['free ', BM, 'AANAT3'], s: 12 },
  { x: 352, y: 769, p: KD(' = 0.18 ± 0.02 mM'), s: 10.5, b: true },

  // C middle bottom
  { x: 417, y: 873, p: ['G69'], s: 9.5, c: TEAL },
  { x: 420, y: 934, p: ['I99'], s: 9.5, c: MAGENTA },
  { x: 432, y: 954, p: ['V7'], s: 9.5, c: BROWN },
  { x: 313, y: 979, p: ['tyrosol'], s: 12, b: true },
  { x: 313, y: 992, p: ['acetyl-CoA-', BM, 'AANAT3', { t: 'D26A', sup: true, c: RED }], s: 12 },
  { x: 313, y: 1004, p: KD(' = 65.7 ± 4.8 μM'), s: 10.5, b: true },

  // C right top
  { x: 710, y: 691, p: ['I99'], s: 9.5, c: '#e8246c' },
  { x: 712, y: 767, p: ['E123'], s: 9.5, c: NAVY },
  { x: 710, y: 792, p: ['A60'], s: 9.5, c: OLIVE },
  { x: 710, y: 806, p: ['G69'], s: 9.5, c: GREEN },
  { x: 717, y: 823, p: ['V7'], s: 9.5, c: BROWN },
  { x: 647, y: 719, p: ['tyrosol'], s: 12.5, b: true },
  { x: 639, y: 733, p: ['CoA-', BM, 'AANAT3'], s: 12.5 },
  { x: 648, y: 748, p: KD(' = 52.3 ± 2.5 μM'), s: 10.5, b: true },

  // C right bottom
  { x: 727, y: 883, p: ['L48'], s: 9.5, c: '#111' },
  { x: 725, y: 913, p: ['K95'], s: 9.5, c: NAVY },
  { x: 723, y: 986, p: ['V207'], s: 9.5, c: RED },
  { x: 620, y: 930, p: ['tyrosol'], s: 12.5, b: true },
  { x: 620, y: 943, p: ['CoA-', BM, 'AANAT3', { t: 'D26A', sup: true, c: RED }], s: 12.5 },
  { x: 623, y: 961, p: KD(' = 84.2 ± 12.4 μM'), s: 10.5, b: true },
];

type LineSpec = { x1: number; x2: number; y: number; c: string; w: number; dash?: boolean };
const LEGEND_LINES: LineSpec[] = [
  { x1: 302, x2: 323, y: 181, c: '#000', w: 2 },
  { x1: 302, x2: 323, y: 195, c: RED, w: 2 },
  { x1: 302, x2: 323, y: 208, c: '#000', w: 2, dash: true },
  { x1: 307, x2: 336, y: 513, c: '#000', w: 1.6, dash: true },
  { x1: 307, x2: 336, y: 527, c: '#000', w: 1.6 },
];

function Txt({ d }: { d: TextSpec }) {
  const transform = d.rot
    ? 'translate(-50%,-50%) rotate(-90deg)'
    : d.a === 'c' ? 'translate(-50%,-50%)' : d.a === 'r' ? 'translate(-100%,-50%)' : 'translate(0,-50%)';
  return (
    <div style={{
      position: 'absolute', left: d.x, top: d.y, transform, whiteSpace: 'pre', fontFamily: FONT, fontSize: d.s,
      lineHeight: 1, fontWeight: d.b ? 700 : 400, fontStyle: d.i ? 'italic' : 'normal', color: d.c || '#111',
    }}>
      {d.p.map((q, k) => (typeof q === 'string'
        ? <span key={k}>{q}</span>
        : <span key={k} style={{
          fontWeight: q.b === undefined ? undefined : (q.b ? 700 : 400),
          fontStyle: q.i === undefined ? undefined : (q.i ? 'italic' : 'normal'),
          color: q.c,
          fontSize: q.sub || q.sup ? '0.7em' : undefined,
          verticalAlign: q.sub ? 'sub' : q.sup ? 'super' : undefined,
          lineHeight: q.sub || q.sup ? 0 : undefined,
        }}>{q.t}</span>))}
    </div>
  );
}

export default function App() {
  return (
    <div style={{ position: 'absolute', left: 0, top: 0, width: 747, height: 1044, overflow: 'hidden', background: '#fff' }}>
      {PLOTS.map((p) => <Plot key={p.key} spec={p} />)}
      {LEGEND_LINES.map((l, k) => (
        <div key={k} style={{
          position: 'absolute', left: l.x1, top: l.y - l.w / 2, width: l.x2 - l.x1, height: 0,
          borderTop: `${l.w}px ${l.dash ? 'dashed' : 'solid'} ${l.c}`,
        }} />
      ))}
      <div style={{ position: 'absolute', left: 318, top: 535.5, width: 7, height: 7, border: `1.3px solid ${RED}`, boxSizing: 'border-box' }} />
      {TEXTS.map((d, k) => <Txt key={k} d={d} />)}
    </div>
  );
}
